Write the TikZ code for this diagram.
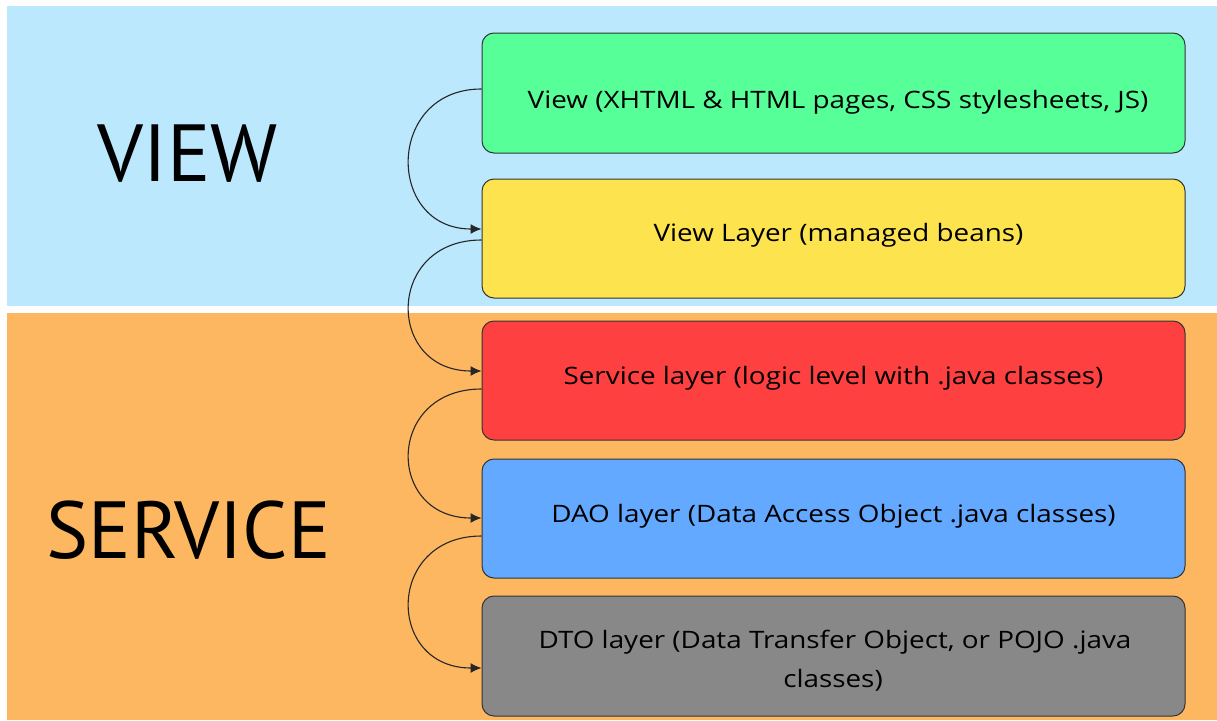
\documentclass[tikz,border=0pt]{standalone}
\usepackage{fontspec}
\setmainfont{PT Sans}
\newfontfamily\boxfont[FakeStretch=1.16]{Open Sans}
\usetikzlibrary{arrows.meta}
\definecolor{bgblue}{HTML}{BBE8FC}
\definecolor{bgorange}{HTML}{FDB760}
\definecolor{cgreen}{HTML}{57FF98}
\definecolor{cyellow}{HTML}{FDE34E}
\definecolor{cred}{HTML}{FF4040}
\definecolor{cblue}{HTML}{63A9FF}
\definecolor{cgray}{HTML}{888888}
\definecolor{edge}{HTML}{333333}
\tikzset{
  layerbox/.style={draw=edge, line width=1pt, rounded corners=12pt, minimum width=703pt, inner sep=0pt},
  lbl/.style={font=\boxfont\fontsize{24}{28}\selectfont, inner sep=0pt, anchor=base},
  big/.style={font=\fontsize{81}{90}\selectfont, inner sep=0pt, anchor=base},
  conn/.style={draw=black!85, line width=1.1pt, -{Latex[length=11pt,width=10pt]}}
}
\begin{document}
\begin{tikzpicture}[x=1pt,y=-1pt]
\useasboundingbox (0,0) rectangle (1217,720);
\fill[bgblue] (7,6) rectangle (1217,306);
\fill[bgorange] (7,313) rectangle (1217,720);
\node[big] (tview) at (187.5,181) {VIEW};
\node[big, xscale=0.98] (tservice) at (188.5,558) {SERVICE};
\node[layerbox, fill=cgreen, minimum height=120pt] (g) at (833.5,93) {};
\node[layerbox, fill=cyellow, minimum height=119pt] (y) at (833.5,238.5) {};
\node[layerbox, fill=cred, minimum height=119pt] (r) at (833.5,380.5) {};
\node[layerbox, fill=cblue, minimum height=119pt] (b) at (833.5,518.5) {};
\node[layerbox, fill=cgray, minimum height=120pt] (d) at (833.5,656) {};
\node[lbl] (tg) at (838,108) {View (XHTML \& HTML pages, CSS stylesheets, JS)};
\node[lbl] (ty) at (838.5,241) {View Layer (managed beans)};
\node[lbl] (tr) at (833.5,384) {Service layer (logic level with .java classes)};
\node[lbl] (tb) at (833.5,522) {DAO layer (Data Access Object .java classes)};
\node[lbl] (td1) at (835,648) {DTO layer (Data Transfer Object, or POJO .java};
\node[lbl] (td2) at (833,687) {classes)};
\draw[conn] ([yshift=4pt]g.west) .. controls +(-96,0) and +(-96,0) .. ([yshift=9.5pt]y.west);
\draw[conn] ([yshift=-1.5pt]y.west) .. controls +(-96,0) and +(-96,0) .. ([yshift=9.5pt]r.west);
\draw[conn] ([yshift=-8.5pt]r.west) .. controls +(-96,0) and +(-96,0) .. ([yshift=0.5pt]b.west);
\draw[conn] ([yshift=-17.5pt]b.west) .. controls +(-96,0) and +(-96,0) .. ([yshift=-12pt]d.west);
\end{tikzpicture}
\end{document}
